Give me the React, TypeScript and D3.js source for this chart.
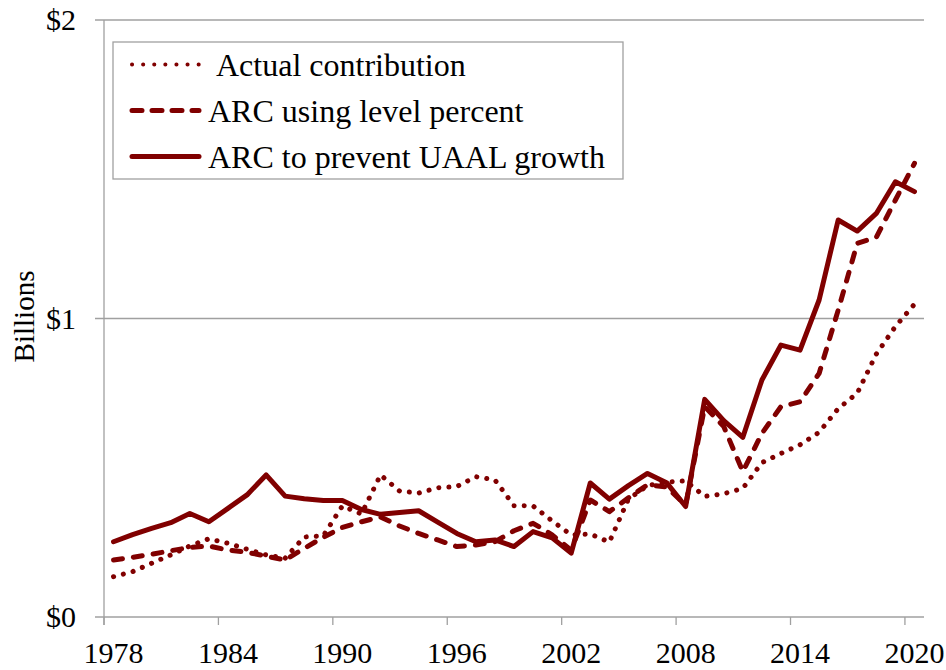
import { useEffect, useRef } from "react";
import * as d3 from "d3";

const years = d3.range(1978, 2021);

const actualContribution = [
  0.135, 0.152, 0.18, 0.208, 0.238, 0.262, 0.247, 0.227, 0.208, 0.197,
  0.268, 0.272, 0.372, 0.345, 0.476, 0.422, 0.415, 0.433, 0.437, 0.47,
  0.459, 0.373, 0.372, 0.322, 0.275, 0.278, 0.251, 0.395, 0.44, 0.452,
  0.456, 0.404, 0.413, 0.431, 0.517, 0.548, 0.577, 0.619, 0.698, 0.75,
  0.881, 0.973, 1.048,
];

const arcLevelPercent = [
  0.191, 0.2, 0.21, 0.222, 0.233, 0.238, 0.224, 0.217, 0.204, 0.191,
  0.23, 0.267, 0.3, 0.319, 0.335, 0.305, 0.28, 0.258, 0.236, 0.241,
  0.252, 0.289, 0.314, 0.275, 0.224, 0.392, 0.353, 0.399, 0.443, 0.436,
  0.375, 0.705, 0.638, 0.487, 0.615, 0.705, 0.721, 0.816, 1.028, 1.252,
  1.272, 1.397, 1.52,
];

const arcPreventUaal = [
  0.252, 0.276, 0.297, 0.316, 0.347, 0.319, 0.364, 0.409, 0.476, 0.405,
  0.396, 0.39, 0.39, 0.36, 0.344, 0.35, 0.356, 0.318, 0.28, 0.252,
  0.258, 0.236, 0.286, 0.265, 0.214, 0.449, 0.395, 0.44, 0.481, 0.45,
  0.37, 0.729, 0.658, 0.602, 0.794, 0.911, 0.894, 1.062, 1.33, 1.293,
  1.352, 1.458, 1.425,
];

const xTicks = [1978, 1984, 1990, 1996, 2002, 2008, 2014, 2020];
const yTicks = [0, 1, 2];
const yTickLabels = ["$0", "$1", "$2"];

const seriesNames = [
  "Actual contribution",
  "ARC using level percent",
  "ARC to prevent UAAL growth",
];

const FONT = "'Liberation Serif', 'Times New Roman', serif";
const RED = "#800000";
const GRID = "#a0a0a0";

export default function App() {
  const svgRef = useRef<SVGSVGElement>(null);

  useEffect(() => {
    if (!svgRef.current) return;
    const width = 946;
    const height = 670;

    const svg = d3.select(svgRef.current);
    svg.selectAll("*").remove();
    svg.attr("width", width).attr("height", height);

    const x = d3.scaleLinear().domain([1978, 2021]).range([104, 924]);
    const y = d3.scaleLinear().domain([0, 2]).range([617, 20]);

    // gridlines (with their little ticks left of the axis)
    svg
      .append("g")
      .selectAll("line")
      .data(yTicks)
      .enter()
      .append("line")
      .attr("x1", 95)
      .attr("x2", x(2021))
      .attr("y1", (d) => y(d))
      .attr("y2", (d) => y(d))
      .style("stroke", GRID)
      .style("stroke-width", "1.3px");

    // y axis
    svg
      .append("line")
      .attr("x1", x(1978))
      .attr("x2", x(1978))
      .attr("y1", y(2))
      .attr("y2", y(0) + 8)
      .style("stroke", GRID)
      .style("stroke-width", "1.3px");

    // x ticks
    svg
      .append("g")
      .selectAll("line")
      .data(xTicks)
      .enter()
      .append("line")
      .attr("x1", (d) => x(d))
      .attr("x2", (d) => x(d))
      .attr("y1", y(0))
      .attr("y2", y(0) + 8)
      .style("stroke", GRID)
      .style("stroke-width", "1.3px");

    // x labels, centred on the category
    svg
      .append("g")
      .selectAll("text")
      .data(xTicks)
      .enter()
      .append("text")
      .attr("x", (d) => x(d + 0.5))
      .attr("y", 663)
      .attr("text-anchor", "middle")
      .style("font-family", FONT)
      .style("font-size", "30px")
      .style("fill", "#000")
      .text((d) => d.toString());

    // y labels
    svg
      .append("g")
      .selectAll("text")
      .data(yTicks)
      .enter()
      .append("text")
      .attr("x", 76)
      .attr("y", (d) => y(d) + 10)
      .attr("text-anchor", "end")
      .style("font-family", FONT)
      .style("font-size", "30px")
      .style("fill", "#000")
      .text((_, i) => yTickLabels[i]);

    svg
      .append("text")
      .attr("transform", `translate(34, ${y(1) - 2}) rotate(-90)`)
      .attr("text-anchor", "middle")
      .style("font-family", FONT)
      .style("font-size", "29px")
      .style("fill", "#000")
      .text("Billions");

    const styles = [
      { dash: "0.1,10", width: 5 },
      { dash: "9,11", width: 5 },
      { dash: null as string | null, width: 5 },
    ];
    const seriesData = [actualContribution, arcLevelPercent, arcPreventUaal];

    // points sit in the middle of each year's category
    const line = d3
      .line<number>()
      .x((_, i) => x(years[i] + 0.5))
      .y((d) => y(d));

    seriesData.forEach((values, i) => {
      const p = svg
        .append("path")
        .datum(values)
        .attr("d", line)
        .style("fill", "none")
        .style("stroke", RED)
        .style("stroke-width", `${styles[i].width}px`)
        .style("stroke-linejoin", "round")
        .style("stroke-linecap", "round");
      if (styles[i].dash) p.style("stroke-dasharray", styles[i].dash);
    });

    // legend
    const lg = svg.append("g");
    lg.append("rect")
      .attr("x", 113)
      .attr("y", 42)
      .attr("width", 510)
      .attr("height", 137)
      .style("fill", "#fff")
      .style("stroke", GRID)
      .style("stroke-width", "1.3px");

    const legendStyles = [
      { dash: "0.1,11", width: 4 },
      { dash: "10,10", width: 5 },
      { dash: null as string | null, width: 5 },
    ];
    seriesNames.forEach((name, i) => {
      const cy = 64.5 + i * 46;
      const l = lg
        .append("line")
        .attr("x1", 132)
        .attr("x2", 199)
        .attr("y1", cy)
        .attr("y2", cy)
        .style("stroke", RED)
        .style("stroke-width", `${legendStyles[i].width}px`)
        .style("stroke-linecap", "round");
      if (legendStyles[i].dash) l.style("stroke-dasharray", legendStyles[i].dash);
      lg.append("text")
        .attr("x", i === 0 ? 216 : 208)
        .attr("y", cy + 11)
        .style("font-family", FONT)
        .style("font-size", "32px")
        .style("fill", "#000")
        .text(name);
    });
  }, []);

  return (
    <div style={{ position: "absolute", left: 0, top: 0, background: "#fff" }}>
      <svg ref={svgRef} style={{ display: "block" }} />
    </div>
  );
}
